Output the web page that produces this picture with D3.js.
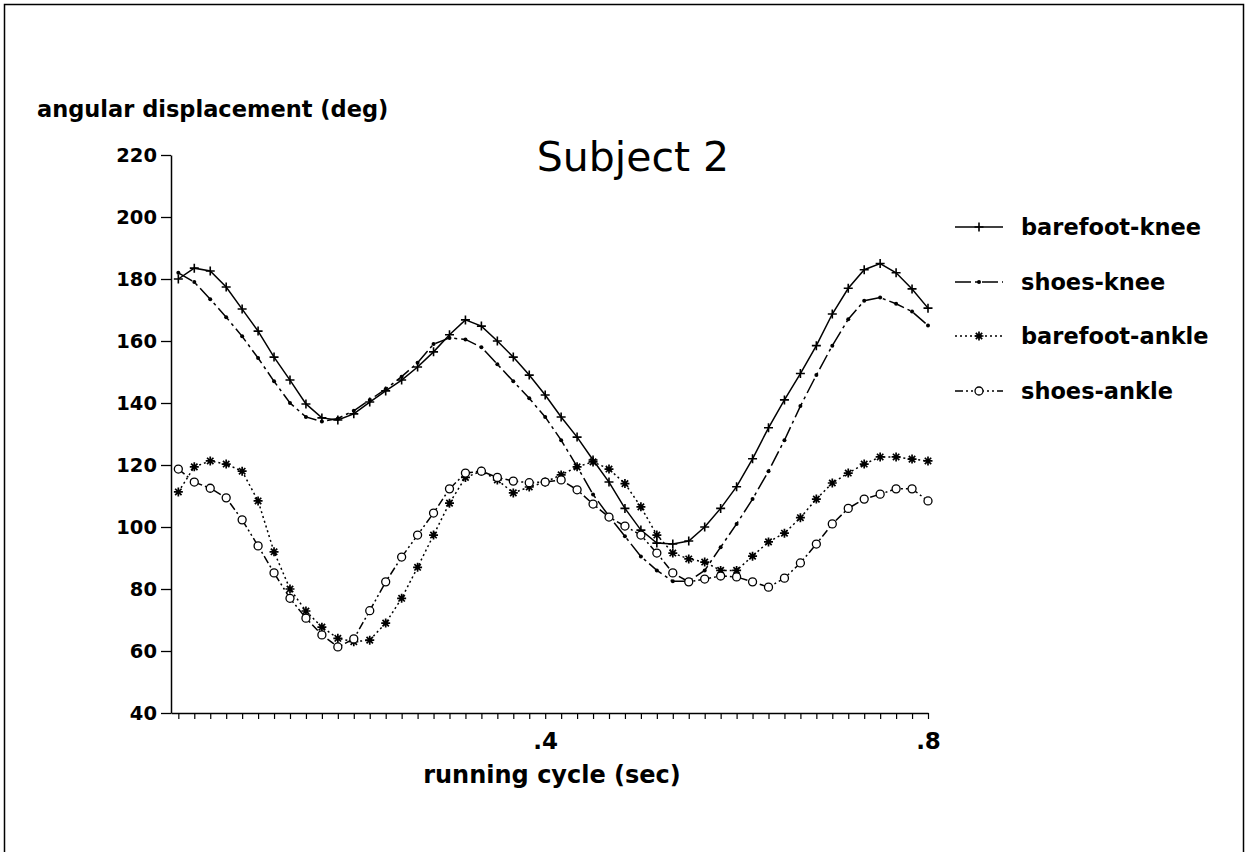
<!DOCTYPE html>
<html><head><meta charset="utf-8">
<script src="https://cdn.jsdelivr.net/npm/d3@7"></script>
<style>body{margin:0;background:#fff}</style>
</head><body><svg id="c" width="1248" height="852"></svg>
<script>
// frame numbers sampled at 60 Hz
const frames = [1,2,3,4,5,6,7,8,9,10,11,12,13,14,15,16,17,18,19,20,21,22,23,24,25,26,27,28,29,30,31,32,33,34,35,36,37,38,39,40,41,42,43,44,45,46,47,48];
const time = frames.map(f => f / 60);
const barefootKnee = [180,183.5,182.6,177.4,170.3,163.2,154.8,147.4,139.7,135.2,134.5,136.5,140.3,143.9,147.4,151.6,156.5,162,166.8,164.8,160,154.8,149,142.6,135.5,129,121.6,114.5,106,99,94.8,94.5,95.5,100,106,113,122,132,141,149.5,158.5,168.7,177,183,185,182,176.8,170.6];
const shoesKnee = [182,179,173.5,167.7,161.5,154.5,147,140,135.5,134,135,137.5,141,144.5,148.5,153,159,161,160.5,158,152.5,147,141.5,135.5,128,119.5,110.5,103.5,97,90.5,86,82.5,82.5,86,93.5,101,109,118,128,139,149,158.5,167,173,174,172,169.5,165];
const barefootAnkle = [111.3,119.4,121.3,120.3,118,108.4,92,80,72.9,67.7,64.1,63,63.5,69,77,87,97.4,107.7,116,118,115.2,111,112.9,114.5,116.8,119.4,121,118.7,114,106.5,97.4,91.6,89.7,88.7,86,86,90.6,95.2,98,103,109,114.2,117.4,120.3,122.6,122.6,121.9,121.3];
const shoesAnkle = [118.7,114.5,112.5,109.4,102.3,93.9,85.2,77,70.6,65.2,61.3,63.9,73,82.3,90.3,97.4,104.5,112.3,117.4,118,116,114.8,114.3,114.5,115.2,112,107.4,103.2,100.3,97.4,91.6,85.2,82.3,83.2,84.2,83.9,82.3,80.6,83.5,88.4,94.5,101,106,109,110.6,112.3,112.3,108.4];
const seriesNames = ["barefoot-knee","shoes-knee","barefoot-ankle","shoes-ankle"];
const yTicks = [40,60,80,100,120,140,160,180,200,220];
const xLabelValues = [0.4, 0.8];
const xLabelTexts = [".4", ".8"];

const FONT = "'DejaVu Sans', sans-serif";
const svg = d3.select("#c");
svg.append("rect").attr("width",1248).attr("height",852).attr("fill","#fff");
svg.append("rect").attr("x",4.5).attr("y",4.5).attr("width",1239).attr("height",900)
  .attr("fill","none").attr("stroke","#000").attr("stroke-width",1.5);

const x = d3.scaleLinear().domain([0.009, 0.8]).range([171, 928]);
const y = d3.scaleLinear().domain([40, 220]).range([713, 155]);

// Y axis
const gy = svg.append("g").attr("transform","translate(171,0)")
  .call(d3.axisLeft(y).tickValues(yTicks).tickSize(10).tickSizeOuter(0).tickPadding(4).tickFormat(d3.format("d")));
gy.selectAll("text").attr("font-family",FONT).attr("font-weight","bold").attr("font-size",19.5).attr("fill","#000");
gy.select(".domain").attr("stroke-width",1.5);
gy.selectAll(".tick line").attr("stroke-width",1.3);

// X axis
const gx = svg.append("g").attr("transform","translate(0,713)")
  .call(d3.axisBottom(x).tickValues(time).tickSize(6).tickSizeOuter(0).tickPadding(14)
    .tickFormat(d => { const i = xLabelValues.findIndex(v => Math.abs(v - d) < 1e-6); return i >= 0 ? xLabelTexts[i] : ""; }));
gx.selectAll("text").attr("font-family",FONT).attr("font-weight","bold").attr("font-size",23).attr("fill","#000");
gx.select(".domain").attr("stroke-width",1.5);
gx.selectAll(".tick line").attr("stroke-width",1.2);

// titles
svg.append("text").attr("x",633).attr("y",171).attr("text-anchor","middle")
  .attr("font-family",FONT).attr("font-size",41).text("Subject 2");
svg.append("text").attr("x",37).attr("y",117)
  .attr("font-family",FONT).attr("font-weight","bold").attr("font-size",22.5).text("angular displacement (deg)");
svg.append("text").attr("x",552).attr("y",783).attr("text-anchor","middle")
  .attr("font-family",FONT).attr("font-weight","bold").attr("font-size",24).text("running cycle (sec)");

// marker drawers
function plus(g, cx, cy){ g.append("path").attr("d",`M${cx-4.5},${cy}H${cx+4.5}M${cx},${cy-4.5}V${cy+4.5}`).attr("stroke","#000").attr("stroke-width",1.6); }
function dot(g, cx, cy){ g.append("circle").attr("cx",cx).attr("cy",cy).attr("r",2).attr("fill","#000"); }
function star(g, cx, cy){ const r=4.5, d=3.2;
  g.append("path").attr("d",`M${cx-r},${cy}H${cx+r}M${cx},${cy-r}V${cy+r}M${cx-d},${cy-d}L${cx+d},${cy+d}M${cx-d},${cy+d}L${cx+d},${cy-d}`)
   .attr("stroke","#000").attr("stroke-width",1.7); }
function ring(g, cx, cy){ g.append("circle").attr("cx",cx).attr("cy",cy).attr("r",4).attr("fill","#fff").attr("stroke","#000").attr("stroke-width",1.3); }

const series = [
  {name: seriesNames[0], values: barefootKnee, dash: null, marker: plus},
  {name: seriesNames[1], values: shoesKnee, dash: "16,4,3,4", marker: dot},
  {name: seriesNames[2], values: barefootAnkle, dash: "2,3", marker: star},
  {name: seriesNames[3], values: shoesAnkle, dash: "8,3,2,3,2,3", marker: ring}
];

const line = d3.line().x((d,i) => x(time[i])).y(d => y(d));
series.forEach(s => {
  const g = svg.append("g");
  g.append("path").attr("d", line(s.values)).attr("fill","none").attr("stroke","#000")
    .attr("stroke-width",1.5).attr("stroke-dasharray", s.dash);
  s.values.forEach((v,i) => s.marker(g, x(time[i]), y(v)));
});

// legend
const legY = [227, 282, 336, 391];
series.forEach((s,i) => {
  const g = svg.append("g");
  g.append("line").attr("x1",955).attr("x2",1003).attr("y1",legY[i]).attr("y2",legY[i])
    .attr("stroke","#000").attr("stroke-width",1.5).attr("stroke-dasharray", s.dash);
  s.marker(g, 979, legY[i]);
  g.append("text").attr("x",1021).attr("y",legY[i]).attr("dy","0.35em")
    .attr("font-family",FONT).attr("font-weight","bold").attr("font-size",22.5).text(s.name);
});
</script></body></html>
